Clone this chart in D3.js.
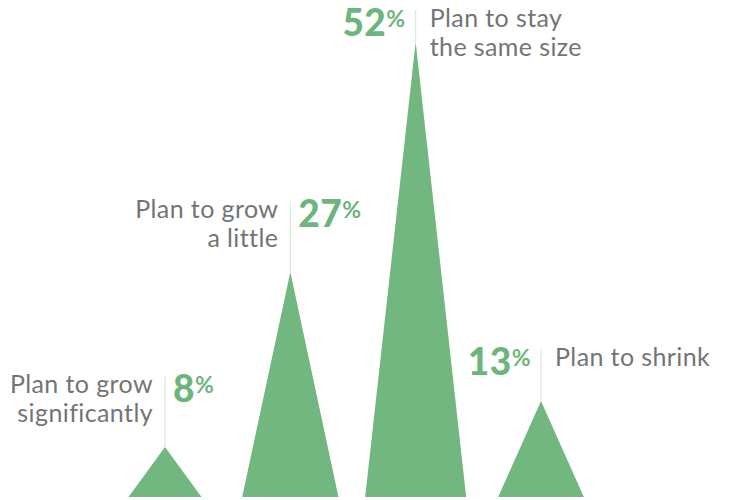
<!DOCTYPE html>
<html>
<head>
<meta charset="utf-8">
<script src="https://cdn.jsdelivr.net/npm/d3@7"></script>
<style>
  html, body { margin: 0; padding: 0; background: #fff; }
</style>
</head>
<body>
<svg id="sizePlot"></svg>
<script>
  // share of firms by growth plan
  const categories = ["grow-significantly", "grow-little", "same-size", "shrink"];
  const values = [8, 27, 52, 13];
  const labels = [
    ["Plan to grow", "significantly"],
    ["Plan to grow", "a little"],
    ["Plan to stay", "the same size"],
    ["Plan to shrink"],
  ];
  // which side of the leader line the text sits on
  const labelSide = ["left", "left", "right", "right"];

  const color = {
    fill: "#72b77f",
    number: "#6db57c",
    text: "#747474",
    leader: "#cfe8d4",
  };

  const size = { width: 731, height: 500 };
  const base = 497;

  const svg = d3
    .select("#sizePlot")
    .attr("width", size.width)
    .attr("height", size.height);

  const data = categories.map((c, i) => ({
    key: c,
    value: values[i],
    lines: labels[i],
    side: labelSide[i],
  }));

  const x = d3.scalePoint().domain(categories).range([165, 541]);

  // apex height
  const y = d3
    .scaleLinear()
    .domain([8, 52])
    .range([base - 50, 42]);

  // base width grows fast then levels off
  const w = d3
    .scaleLinear()
    .domain([1 / 8, 1 / 52])
    .range([73, 101]);

  const tri = (d) => {
    const cx = x(d.key);
    const half = w(1 / d.value) / 2;
    return `M${cx - half},${base}L${cx},${y(d.value)}L${cx + half},${base}Z`;
  };

  svg
    .append("g")
    .selectAll("path")
    .data(data)
    .join("path")
    .attr("d", tri)
    .attr("fill", color.fill);

  const labelTop = (d) =>
    Math.max(10, y(d.value) - (d.lines.length > 1 ? 71 : 52));

  const ann = svg
    .append("g")
    .selectAll("g")
    .data(data)
    .join("g")
    .attr("transform", (d) => `translate(${x(d.key)}, ${labelTop(d)})`);

  ann
    .append("line")
    .attr("x1", 0)
    .attr("x2", 0)
    .attr("y1", 0)
    .attr("y2", (d) => y(d.value) - labelTop(d))
    .attr("stroke", color.leader)
    .attr("stroke-width", 1);

  const num = ann
    .append("text")
    .attr("x", (d) => (d.side === "left" ? 8 : -10))
    .attr("y", 26)
    .attr("text-anchor", (d) => (d.side === "left" ? "start" : "end"))
    .style("font-family", "Lato, sans-serif")
    .style("font-weight", 900)
    .style("font-size", "37px")
    .style("letter-spacing", "0.5px")
    .attr("fill", color.number);

  num.append("tspan").text((d) => d.value);
  num
    .append("tspan")
    .text("%")
    .attr("dy", -9)
    .style("font-size", "23px")
    .style("font-weight", 700);

  const txt = ann
    .append("text")
    .attr("text-anchor", (d) => (d.side === "left" ? "end" : "start"))
    .style("font-family", "Lato, sans-serif")
    .style("font-size", "25px")
    .style("letter-spacing", "0.4px")
    .attr("fill", color.text);

  txt
    .selectAll("tspan")
    .data((d) => d.lines.map((l) => ({ l, side: d.side })))
    .join("tspan")
    .attr("x", (d) => (d.side === "left" ? -12 : 14))
    .attr("y", (d, i) => 17 + i * 29)
    .text((d) => d.l);
</script>
</body>
</html>
